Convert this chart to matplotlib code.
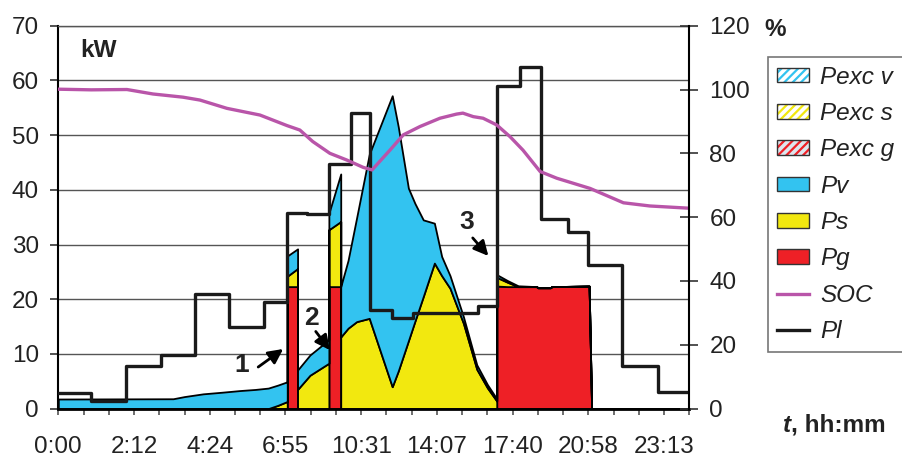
import matplotlib
matplotlib.use("Agg")
import matplotlib.pyplot as plt
import numpy as np
from matplotlib.patches import Patch
from matplotlib.lines import Line2D

plt.rcParams['font.family'] = ['Liberation Sans', 'DejaVu Sans']
plt.rcParams['font.size'] = 17.5
plt.rcParams['hatch.linewidth'] = 1.6

# ---- data -------------------------------------------------------------
# x axis is a slot axis (25 slots), labelled with clock times every 3 slots
time_labels = ["0:00", "2:12", "4:24", "6:55", "10:31", "14:07", "17:40", "20:58", "23:13"]
label_slots = [0, 3, 6, 9, 12, 15, 18, 21, 24]
n_slots = 25

# generation sources (kW), stacked: Pg (bottom), Ps, Pv (top)
t_src = [0.00, 4.55, 5.00, 5.74, 6.50, 7.20, 7.80, 8.32, 8.70, 9.07,
         9.07, 9.48,
         9.48, 9.97, 10.72,
         10.72, 11.19,
         11.19, 11.48, 11.82, 12.32, 13.23, 13.47, 13.87, 14.13, 14.46,
         14.90, 15.19, 15.52, 16.05, 16.58, 17.00, 17.37,
         17.37, 17.80, 18.22, 18.95, 19.00, 19.50, 19.55, 21.03, 21.13, 25.00]
pg = [0, 0, 0, 0, 0, 0, 0, 0, 0, 0,
      22.3, 22.3,
      0, 0, 0,
      22.3, 22.3,
      0, 0, 0, 0, 0, 0, 0, 0, 0, 0, 0, 0, 0, 0, 0, 0,
      22.4, 22.3, 22.3, 22.3, 22.1, 22.1, 22.3, 22.4, 0, 0]
ps = [0, 0, 0, 0, 0, 0, 0, 0, 0.6, 1.3,
      1.9, 3.3,
      3.5, 6.1, 8.3,
      10.4, 11.9,
      13.1, 14.7, 15.9, 16.5, 4.0, 6.9, 12.4, 16.0, 20.5, 26.6, 24.3, 22.0,
      15.6, 7.2, 3.8, 1.4,
      1.6, 0.8, 0, 0, 0, 0, 0, 0, 0, 0]
pv = [1.75, 1.8, 2.2, 2.7, 3.0, 3.3, 3.5, 3.75, 3.7, 3.6,
      3.7, 3.6,
      3.55, 3.7, 4.3,
      3.0, 8.7,
      9.2, 12.4, 19.0, 30.0, 53.2, 44.6, 27.9, 21.5, 14.0, 7.3, 3.5, 2.3,
      1.2, 0.8, 0.6, 0.4,
      0.5, 0.3, 0.15, 0, 0, 0, 0, 0, 0, 0]

# load (kW), piecewise constant between edges
t_load = [0, 1.30, 2.69, 4.07, 5.42, 6.78, 8.15, 9.07, 9.84, 10.74, 11.58,
          12.35, 13.21, 14.06, 16.64, 17.37, 18.29, 19.11, 20.18, 21.0,
          22.35, 23.75, 25]
p_load = [2.9, 1.45, 7.7, 9.8, 21.0, 15.0, 19.5, 35.8, 35.6, 44.8, 54.0,
          18.0, 16.5, 17.5, 18.7, 58.9, 62.5, 34.6, 32.2, 26.3, 7.7, 3.1]

# battery state of charge (%)
t_soc = [0, 1.30, 2.72, 3.75, 4.94, 5.61, 6.68, 7.99, 9.06, 9.57, 10.08,
         10.76, 11.43, 12.08, 12.43, 13.14, 13.67, 14.33, 15.12, 15.78,
         16.03, 16.44, 16.83, 17.37, 17.90, 18.41, 19.09, 19.75, 21.07,
         22.39, 23.44, 25.0]
soc = [100.1, 99.9, 100.0, 98.6, 97.6, 96.7, 94.1, 92.0, 88.7, 87.3, 83.7,
       80.0, 77.9, 75.6, 74.8, 81.0, 85.8, 88.4, 91.0, 92.3,
       92.6, 91.5, 91.0, 88.9, 85.2, 81.0, 74.3, 72.2, 69.0,
       64.5, 63.5, 62.8]

# ---- styles -----------------------------------------------------------
c_v = '#33c3f0'
c_s = '#f2e80f'
c_g = '#ee2026'
c_soc = '#b955a9'
c_txt = '#222222'

fig = plt.figure(figsize=(9.03, 4.57), dpi=100)
ax = fig.add_axes([58.3 / 903, 48.4 / 457, 631 / 903, 382.9 / 457])
ax2 = ax.twinx()

t = np.array(t_src)
c1 = np.array(pg)
c2 = c1 + np.array(ps)
c3 = c2 + np.array(pv)
ax.fill_between(t, 0, c1, facecolor=c_g, edgecolor='black', lw=1.3, zorder=2)
ax.fill_between(t, c1, c2, facecolor=c_s, edgecolor='black', lw=1.3, zorder=2)
ax.fill_between(t, c2, c3, facecolor=c_v, edgecolor='black', lw=1.3, zorder=2)

ax.step(t_load, p_load + [p_load[-1]], where='post', color='#1a1a1a', lw=2.4, zorder=3)
ax2.plot(t_soc, soc, color=c_soc, lw=2.4)

# annotations of the events
for lab, txt_xy, tail, head in [("1", (7.27, 8.0), (7.92, 7.6), (8.91, 10.9)),
                                ("2", (10.01, 16.5), (10.2, 14.1), (10.76, 10.7)),
                                ("3", (16.2, 34.2), (16.42, 31.2), (17.04, 27.9))]:
    ax.text(*txt_xy, lab, ha='center', va='center', fontweight='bold',
            fontsize=19, color=c_txt, zorder=5)
    ax.annotate("", xy=head, xytext=tail,
                arrowprops=dict(arrowstyle='-|>', color='black', lw=2,
                                mutation_scale=22, shrinkA=0, shrinkB=0),
                zorder=5)

# axes
ax.set_xlim(0, n_slots)
ax.set_ylim(0, 70)
ax2.set_ylim(0, 120)
ax.set_yticks(range(0, 71, 10))
ax2.set_yticks(range(0, 121, 20))
ax.set_xticks(label_slots, labels=time_labels)
ax.set_xticks(range(n_slots + 1), minor=True)
ax.grid(axis='y', color='#555555', lw=1)
ax.set_axisbelow(True)

ax.tick_params(axis='y', direction='out', length=6, width=1.2, pad=8,
               labelcolor=c_txt, color='#333')
ax.tick_params(axis='x', which='both', direction='out', length=4.5, width=1.2,
               pad=15, labelcolor=c_txt, color='#555')
ax2.tick_params(axis='y', direction='inout', length=13, width=1.2, pad=8,
                labelcolor=c_txt, color='#333')

for s in ['left', 'top', 'bottom']:
    ax2.spines[s].set_visible(False)
ax.spines['right'].set_visible(False)
ax.spines['top'].set_color('#555555')
ax.spines['top'].set_linewidth(1)
ax.spines['left'].set_linewidth(1.5)
ax.spines['bottom'].set_linewidth(2)
ax2.spines['right'].set_linewidth(1.5)

ax.text(0.034, 0.935, "kW", transform=ax.transAxes, fontweight='bold',
        va='center', ha='left', color=c_txt, zorder=5)
fig.text(764 / 903, 1 - 30 / 457, "%", fontweight='bold', va='center',
         ha='left', color=c_txt)

# axis title "t, hh:mm"
t1 = fig.text(783 / 903, 1 - 425 / 457, "t", fontweight='bold', style='italic',
              va='center', ha='left', color=c_txt)
fig.canvas.draw()
bb = t1.get_window_extent(renderer=fig.canvas.get_renderer())
fig.text(bb.x1 / fig.bbox.width, 1 - 425 / 457, ", hh:mm", fontweight='bold',
         va='center', ha='left', color=c_txt)

# legend
edge = '#333333'
handles = [
    (Patch(facecolor='white', edgecolor=c_v, hatch='////', lw=0),
     Patch(facecolor='none', edgecolor=edge, lw=1)),
    (Patch(facecolor='white', edgecolor=c_s, hatch='////', lw=0),
     Patch(facecolor='none', edgecolor=edge, lw=1)),
    (Patch(facecolor='#dde6ee', edgecolor=c_g, hatch='////', lw=0),
     Patch(facecolor='none', edgecolor=edge, lw=1)),
    Patch(facecolor=c_v, edgecolor=edge, lw=1),
    Patch(facecolor=c_s, edgecolor=edge, lw=1),
    Patch(facecolor=c_g, edgecolor=edge, lw=1),
    Line2D([], [], color=c_soc, lw=2.4),
    Line2D([], [], color='#1a1a1a', lw=2.4),
]
labels = ["Pexc v", "Pexc s", "Pexc g", "Pv", "Ps", "Pg", "SOC", "Pl"]
leg = fig.legend(handles, labels, loc='upper left',
                 bbox_to_anchor=(768 / 903, 1 - 57 / 457),
                 bbox_transform=fig.transFigure, frameon=True, fancybox=False,
                 edgecolor='#777777', framealpha=1, borderaxespad=0,
                 handlelength=1.35, handleheight=0.55, handletextpad=0.45,
                 labelspacing=0.55, borderpad=0.35,
                 prop={'style': 'italic', 'size': 17.5})
for txt in leg.get_texts():
    txt.set_color(c_txt)
leg.get_frame().set_linewidth(1.2)

fig.savefig("out.png", dpi=100)
